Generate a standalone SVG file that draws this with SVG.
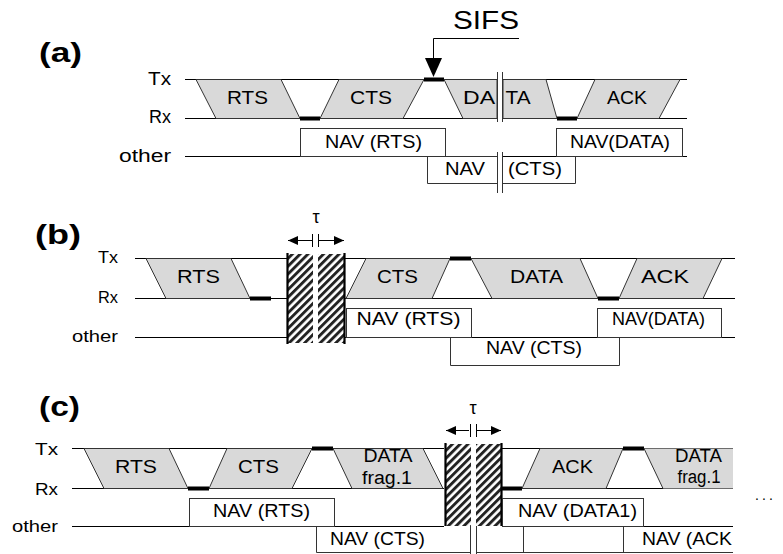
<svg xmlns="http://www.w3.org/2000/svg" width="783" height="554" viewBox="0 0 783 554">
<defs>
<pattern id="hatch" width="5.5" height="5.5" patternUnits="userSpaceOnUse" patternTransform="rotate(45)">
<rect width="5.5" height="5.5" fill="#fff"/>
<rect width="2.9" height="5.5" fill="#222"/>
</pattern>
<marker id="ah" markerWidth="10" markerHeight="9" refX="10" refY="4.5" orient="auto" markerUnits="userSpaceOnUse"><path d="M0,0 L10,4.5 L0,9 z" fill="#000"/></marker>
</defs>
<style>
text{font-family:"Liberation Sans",Arial,sans-serif;fill:#000}
.t{font-size:19px;text-anchor:middle}
.s{font-size:18px;text-anchor:middle}
.la{font-size:18px;text-anchor:end}
.lb{font-size:17px;text-anchor:end}
.lc{font-size:17px;text-anchor:end}
.h{font-size:28px;font-weight:bold}
.ln{stroke:#000;stroke-width:1;fill:none}
.br{stroke:#333;stroke-width:1;fill:none}
.pk{fill:#d9d9d9;stroke:#333;stroke-width:1}
.pf{fill:#d9d9d9;stroke:none}
.box{fill:#fff;stroke:#333;stroke-width:1}
.bar{fill:#000}
.hb{fill:url(#hatch)}
.bd{stroke:#000;stroke-width:2.2}
</style>
<rect width="783" height="554" fill="#fff"/>

<!-- Panel (a) -->
<g id="panel-a-labels">
<text class="h" x="39" y="62" textLength="43" lengthAdjust="spacingAndGlyphs">(a)</text>
<text class="la" x="171" y="85" textLength="23" lengthAdjust="spacingAndGlyphs">Tx</text>
<text class="la" x="171" y="123" textLength="22" lengthAdjust="spacingAndGlyphs">Rx</text>
<text class="la" x="171" y="162" textLength="52" lengthAdjust="spacingAndGlyphs">other</text>
</g>
<g id="connectors">
<path class="ln" d="M185,79.5 H497 M503,79.5 H687 M185,118.5 H497 M503,118.5 H687 M185,156.5 H497 M503,156.5 H687"/>
<path class="br" d="M497.5,72 V122 M502.5,72 V122 M497.5,152 V193 M502.5,152 V193"/>
<path class="ln" d="M519,38.5 H433.5 V59"/>
<polygon points="425,58 442,58 433.5,77" fill="#000"/>
<path class="ln" d="M135,258.5 H287 M345,258.5 H735 M135,298.5 H287 M345,298.5 H735 M135,337.5 H287 M345,337.5 H735"/>
<path class="ln" d="M312,240.5 H288" marker-end="url(#ah)"/>
<path class="ln" d="M319,240.5 H344" marker-end="url(#ah)"/>
<path class="ln" d="M312.5,234 V247 M318.5,234 V247"/>
<path class="ln" d="M72,448.5 H444 M502,448.5 H733 M72,488.5 H444 M502,488.5 H733 M72,526.5 H444 M502,526.5 H733"/>
<path class="ln" d="M469,430.5 H446" marker-end="url(#ah)"/>
<path class="ln" d="M477,430.5 H501" marker-end="url(#ah)"/>
<path class="ln" d="M470.5,424 V437 M476.5,424 V437"/>
</g>
<g id="sifs">
<text x="453" y="29" font-size="25" textLength="66" lengthAdjust="spacingAndGlyphs">SIFS</text>
</g>
<g id="a-rts"><polygon class="pk" points="196,79.5 281,79.5 300,118.5 216,118.5"/><text class="t" x="247.5" y="104" textLength="41" lengthAdjust="spacingAndGlyphs">RTS</text></g>
<rect class="bar" x="300" y="116.5" width="20" height="4"/>
<g id="a-cts"><polygon class="pk" points="339,79.5 424,79.5 403,118.5 320,118.5"/><text class="t" x="371" y="104" textLength="42" lengthAdjust="spacingAndGlyphs">CTS</text></g>
<rect class="bar" x="424" y="77.5" width="20" height="4"/>
<g id="a-da"><polygon class="pk" points="444,79.5 497,79.5 497,118.5 463,118.5"/><text class="t" x="479" y="104" textLength="32" lengthAdjust="spacingAndGlyphs">DA</text></g>
<g id="a-ta"><polygon class="pk" points="503,79.5 546,79.5 557,118.5 503,118.5"/><text class="t" x="518" y="104" textLength="25" lengthAdjust="spacingAndGlyphs">TA</text></g>
<rect class="bar" x="557" y="116.5" width="20" height="4"/>
<g id="a-ack"><polygon class="pk" points="595,79.5 680,79.5 659,118.5 577,118.5"/><text class="t" x="627" y="104" textLength="40" lengthAdjust="spacingAndGlyphs">ACK</text></g>
<g id="a-navrts"><rect class="box" x="300.5" y="128.5" width="145" height="28"/><text class="s" x="373.5" y="148" textLength="97" lengthAdjust="spacingAndGlyphs">NAV (RTS)</text></g>
<g id="a-navdata"><rect class="box" x="556.5" y="128.5" width="126" height="28"/><text class="s" x="620" y="148" textLength="100" lengthAdjust="spacingAndGlyphs">NAV(DATA)</text></g>
<g id="a-navcts"><path class="br" d="M497,156.5 H427.5 V183.5 H497 M503,183.5 H575.5 V156.5"/><text class="s" x="465" y="175" textLength="40" lengthAdjust="spacingAndGlyphs">NAV</text><text class="s" x="535" y="175" textLength="54" lengthAdjust="spacingAndGlyphs">(CTS)</text></g>

<!-- Panel (b) -->
<g id="panel-b-labels">
<text class="h" x="35" y="244" textLength="46" lengthAdjust="spacingAndGlyphs">(b)</text>
<text class="lb" x="118" y="263" textLength="20" lengthAdjust="spacingAndGlyphs">Tx</text>
<text class="lb" x="118" y="303" textLength="20" lengthAdjust="spacingAndGlyphs">Rx</text>
<text class="lb" x="118" y="342" textLength="46" lengthAdjust="spacingAndGlyphs">other</text>
</g>
<g id="b-rts"><polygon class="pk" points="146,258.5 231,258.5 250,298.5 166,298.5"/><text class="t" x="198.5" y="283" textLength="43" lengthAdjust="spacingAndGlyphs">RTS</text></g>
<rect class="bar" x="250" y="296.5" width="21" height="4"/>
<g id="b-collision">
<rect class="hb" x="287" y="254" width="26" height="89"/>
<rect class="hb" x="318" y="254" width="27" height="89"/>
<path class="bd" d="M287.5,253 V344 M344.5,253 V344"/>
<text x="316" y="223" font-size="18" text-anchor="middle">τ</text>
</g>
<g id="b-cts"><polygon class="pk" points="366,258.5 450,258.5 432,298.5 346,298.5"/><text class="t" x="397.5" y="283" textLength="41" lengthAdjust="spacingAndGlyphs">CTS</text></g>
<rect class="bar" x="450" y="256.5" width="21" height="4"/>
<g id="b-data"><polygon class="pk" points="471,258.5 580,258.5 598,298.5 492,298.5"/><text class="t" x="536.5" y="283" textLength="53" lengthAdjust="spacingAndGlyphs">DATA</text></g>
<rect class="bar" x="598" y="296.5" width="21" height="4"/>
<g id="b-ack"><polygon class="pk" points="637,258.5 722,258.5 703,298.5 619,298.5"/><text class="t" x="665" y="283" textLength="48" lengthAdjust="spacingAndGlyphs">ACK</text></g>
<g id="b-navrts"><rect class="box" x="346.5" y="308.5" width="125" height="29"/><text class="s" x="408.5" y="325" textLength="104" lengthAdjust="spacingAndGlyphs">NAV (RTS)</text></g>
<g id="b-navcts"><path class="br" d="M450.5,337.5 V365.5 H619.5 V337.5"/><text class="s" x="534" y="354" textLength="96" lengthAdjust="spacingAndGlyphs">NAV (CTS)</text></g>
<g id="b-navdata"><rect class="box" x="597.5" y="308.5" width="124" height="29"/><text class="s" x="658.5" y="325" textLength="93" lengthAdjust="spacingAndGlyphs">NAV(DATA)</text></g>

<!-- Panel (c) -->
<g id="panel-c-labels">
<text class="h" x="39" y="416" textLength="41" lengthAdjust="spacingAndGlyphs">(c)</text>
<text class="lc" x="58" y="455" textLength="23" lengthAdjust="spacingAndGlyphs">Tx</text>
<text class="lc" x="58" y="495" textLength="23" lengthAdjust="spacingAndGlyphs">Rx</text>
<text class="lc" x="58" y="532" textLength="46" lengthAdjust="spacingAndGlyphs">other</text>
</g>
<g id="c-rts"><polygon class="pk" points="84,448.5 169,448.5 188,488.5 104,488.5"/><text class="t" x="136" y="473" textLength="42" lengthAdjust="spacingAndGlyphs">RTS</text></g>
<rect class="bar" x="188" y="486.5" width="21" height="4"/>
<g id="c-cts"><polygon class="pk" points="227,448.5 312,448.5 292,488.5 209,488.5"/><text class="t" x="258.5" y="473" textLength="41" lengthAdjust="spacingAndGlyphs">CTS</text></g>
<rect class="bar" x="312" y="446.5" width="21" height="4"/>
<g id="c-data1"><polygon class="pk" points="333,448.5 423,448.5 443,488.5 352,488.5"/><text class="s" x="388" y="462" font-size="17" textLength="49" lengthAdjust="spacingAndGlyphs">DATA</text><text class="s" x="387" y="484" font-size="17" textLength="50" lengthAdjust="spacingAndGlyphs">frag.1</text></g>
<g id="c-collision">
<rect class="hb" x="445" y="444" width="26" height="82"/>
<rect class="hb" x="476" y="444" width="26" height="82"/>
<path class="bd" d="M445.5,443 V526 M501.5,443 V526"/>
<text x="473" y="414" font-size="18" text-anchor="middle">τ</text>
</g>
<rect class="bar" x="502" y="486.5" width="20" height="4"/>
<g id="c-ack"><polygon class="pk" points="540,448.5 623,448.5 606,488.5 522,488.5"/><text class="t" x="572.5" y="473" textLength="41" lengthAdjust="spacingAndGlyphs">ACK</text></g>
<rect class="bar" x="623" y="446.5" width="21" height="4"/>
<g id="c-data2"><polygon class="pf" points="644,448.5 733,448.5 733,488.5 663,488.5"/><path class="br" d="M644,448.5 L663,488.5"/><text class="s" x="698.5" y="462" font-size="17" textLength="47" lengthAdjust="spacingAndGlyphs">DATA</text><text class="s" x="699" y="483" font-size="17" textLength="43" lengthAdjust="spacingAndGlyphs">frag.1</text></g>
<g id="c-navrts"><rect class="box" x="189.5" y="498.5" width="145" height="28"/><text class="s" x="261.5" y="517" textLength="97" lengthAdjust="spacingAndGlyphs">NAV (RTS)</text></g>
<g id="c-navdata1"><rect class="box" x="502.5" y="498.5" width="141" height="28"/><text class="s" x="577.5" y="517" textLength="119" lengthAdjust="spacingAndGlyphs">NAV (DATA1)</text></g>
<g id="c-navcts"><path class="br" d="M316.5,526.5 V552.5 H471 M476,552.5 H733 M470.5,526 V554 M476.5,526 V554 M523.5,526.5 V552.5"/><text class="s" x="377.5" y="545" textLength="95" lengthAdjust="spacingAndGlyphs">NAV (CTS)</text></g>
<g id="c-navack"><path class="br" d="M623.5,526.5 V552.5"/><text x="642" y="545" font-size="18" textLength="90" lengthAdjust="spacingAndGlyphs">NAV (ACK</text></g>
<g id="ellipsis"><text x="755" y="500" font-size="14" textLength="18" lengthAdjust="spacing">. . .</text></g>
</svg>
